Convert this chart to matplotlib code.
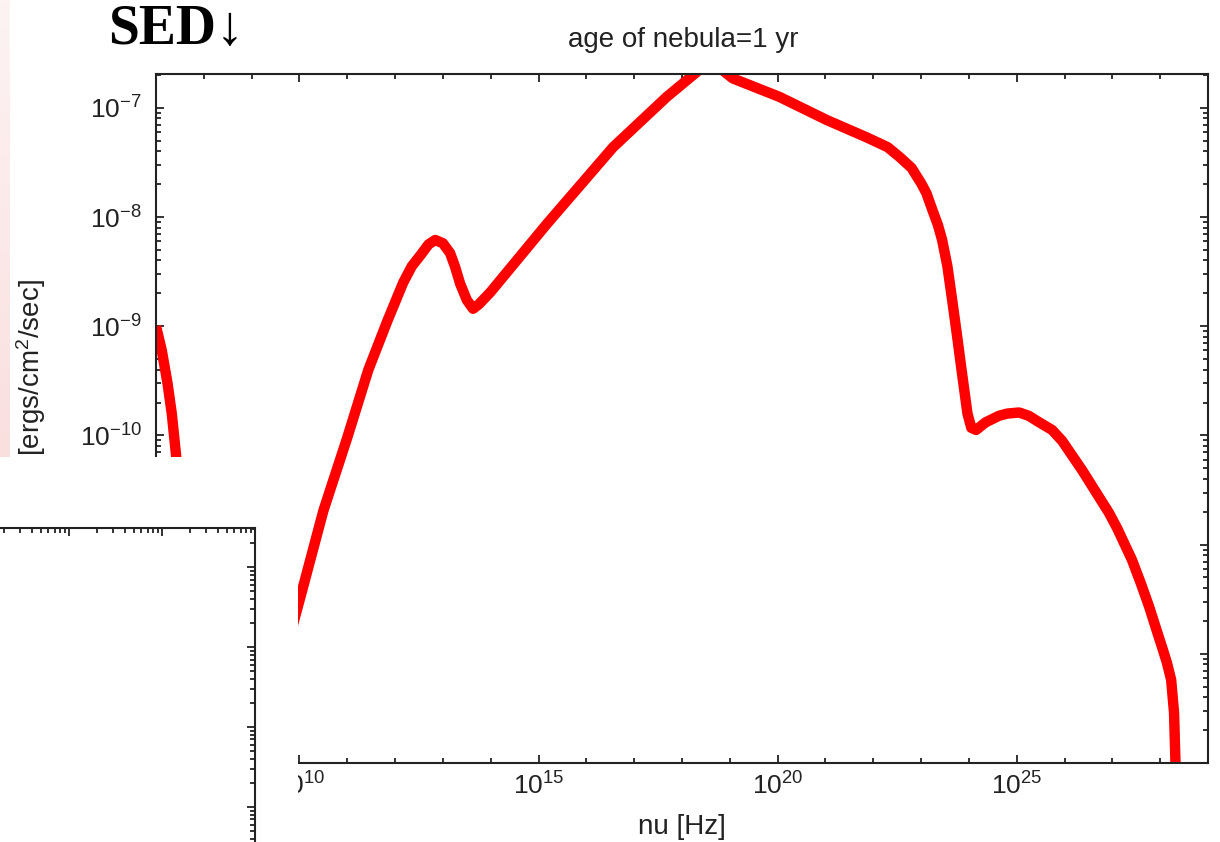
import numpy as np
import matplotlib
matplotlib.use('Agg')
import matplotlib.pyplot as plt
from matplotlib.ticker import (FixedLocator, LogLocator, NullFormatter, LogFormatterMathtext,
                               FuncFormatter)
from matplotlib.patches import Rectangle
from matplotlib.colors import LinearSegmentedColormap

# ---- data (log10 values) ----
log_nu = [7.00, 7.12, 7.24, 7.33, 7.41, 7.55, 7.75, 8.00, 8.30, 8.70,
          9.00, 9.50, 10.02, 10.50, 11.00, 11.44, 11.84, 12.17, 12.35, 12.53,
          12.70, 12.84, 13.00, 13.15, 13.25, 13.36, 13.50, 13.63, 13.75, 13.99,
          15.18, 16.56, 17.68, 18.23, 18.50, 18.75, 19.06, 20.04, 21.02, 21.86,
          22.30, 22.55, 22.80, 23.00, 23.11, 23.24, 23.35, 23.44, 23.55, 23.65,
          23.75, 23.84, 23.97, 24.05, 24.15, 24.35, 24.63, 24.80, 25.05, 25.25,
          25.47, 25.74, 25.95, 26.37, 26.93, 27.10, 27.41, 27.60, 27.77, 27.90,
          28.04, 28.14, 28.23, 28.29, 28.32, 28.33]
log_sed = [-9.00, -9.22, -9.52, -9.80, -10.14, -10.75, -11.60, -12.60, -13.30, -13.60,
           -13.20, -12.32, -11.48, -10.69, -10.02, -9.40, -8.95, -8.60, -8.45, -8.35,
           -8.25, -8.21, -8.24, -8.33, -8.45, -8.61, -8.76, -8.84, -8.80, -8.69,
           -8.06, -7.36, -6.90, -6.70, -6.60, -6.62, -6.73, -6.90, -7.11, -7.27,
           -7.36, -7.45, -7.55, -7.69, -7.78, -7.94, -8.07, -8.21, -8.45, -8.76,
           -9.08, -9.38, -9.80, -9.93, -9.95, -9.88, -9.82, -9.80, -9.79, -9.82,
           -9.88, -9.95, -10.05, -10.32, -10.71, -10.85, -11.14, -11.36, -11.57, -11.75,
           -11.94, -12.08, -12.24, -12.54, -13.00, -14.00]
x_major_exponents = [10, 15, 20, 25]
y_labelled_exponents = [-7, -8, -9, -10]
title_text = "age of nebula=1 yr"
xlabel_text = "nu [Hz]"
ylabel_text = "[ergs/cm$^2$/sec]"
header_text = "SED\u2193"

plt.rcParams.update({
    'font.family': ['Liberation Sans', 'DejaVu Sans'],
    'mathtext.fontset': 'custom',
    'mathtext.rm': 'Liberation Sans',
    'mathtext.it': 'Liberation Sans:italic',
    'mathtext.bf': 'Liberation Sans:bold',
})

W, H = 1220, 842
fig = plt.figure(figsize=(W / 100, H / 100), dpi=100)

def fx(px):
    return px / W

def fy(py):
    return 1 - py / H

INK = '#222222'

# ---- main axes ----
ax = fig.add_axes([fx(156), fy(763), fx(1208) - fx(156), fy(74) - fy(763)])
nu = 10.0 ** np.array(log_nu)
sed = 10.0 ** np.array(log_sed)
ax.plot(nu, sed, color='#ff0000', lw=7.5, solid_joinstyle='round', solid_capstyle='butt')
ax.set_xscale('log')
ax.set_yscale('log')
ax.set_xlim(1e7, 1e29)
ax.set_ylim(1e-13, 10 ** -6.69)
ax.xaxis.set_major_locator(FixedLocator([10.0 ** e for e in x_major_exponents]))
ax.xaxis.set_major_formatter(LogFormatterMathtext())
ax.xaxis.set_minor_locator(FixedLocator([10.0 ** e for e in range(7, 30) if e not in x_major_exponents]))
ax.xaxis.set_minor_formatter(NullFormatter())
ax.yaxis.set_major_locator(LogLocator(base=10, numticks=30))
ax.yaxis.set_minor_locator(LogLocator(base=10, subs=np.arange(2, 10), numticks=30))
ax.yaxis.set_minor_formatter(NullFormatter())

_ymath = LogFormatterMathtext()


def ylab(v, pos):
    e = int(round(np.log10(v)))
    return _ymath(v, pos) if e in y_labelled_exponents else ''


ax.yaxis.set_major_formatter(FuncFormatter(ylab))
ax.tick_params(which='both', direction='in', top=True, right=True, color=INK, width=1.3,
               labelcolor=INK)
ax.tick_params(which='major', length=6)
ax.tick_params(which='minor', length=3.5)
ax.tick_params(axis='x', which='major', labelsize=19, pad=7)
ax.tick_params(axis='y', which='major', labelsize=19, pad=10)
for s in ax.spines.values():
    s.set_linewidth(1.5)
    s.set_color(INK)
ax.set_xlabel(xlabel_text, fontsize=20, color=INK, labelpad=10)

fig.text(fx(683), fy(40), title_text, ha='center', va='center', fontsize=20, color=INK)
fig.text(fx(31), fy(456), ylabel_text, rotation=90, ha='center', va='bottom',
         fontsize=20, color=INK)

# ---- overlaid white patch with a partial second frame ----
fig.add_artist(Rectangle((0, 0), fx(298), fy(457), transform=fig.transFigure,
                         facecolor='white', edgecolor='none', zorder=5))
ax2 = fig.add_axes([fx(-24), fy(887), fx(279), fy(528) - fy(887)], zorder=6)
ax2.set_xscale('log')
ax2.set_yscale('log')
ax2.set_xlim(1, 1e3)
ax2.set_ylim(1e-1, 10 ** 3.49)
ax2.xaxis.set_minor_locator(LogLocator(base=10, subs=np.arange(2, 10), numticks=30))
ax2.yaxis.set_minor_locator(LogLocator(base=10, subs=np.arange(2, 10), numticks=30))
for axis in (ax2.xaxis, ax2.yaxis):
    axis.set_major_formatter(NullFormatter())
    axis.set_minor_formatter(NullFormatter())
ax2.tick_params(which='both', direction='in', top=True, right=True, bottom=False, left=False,
                labeltop=False, labelright=False, labelbottom=False, labelleft=False,
                color=INK, width=1.3)
ax2.tick_params(which='major', length=5.5)
ax2.tick_params(which='minor', length=3.3)
for k, s in ax2.spines.items():
    s.set_linewidth(1.5)
    s.set_color(INK)
    if k in ('left', 'bottom'):
        s.set_visible(False)

# ---- pale pink strip on the left edge ----
pax = fig.add_axes([0, fy(457), fx(10), fy(0) - fy(457)], zorder=4)
cmap = LinearSegmentedColormap.from_list('pinkband', ['#fdf3f3', '#fadfdf'])
pax.imshow(np.linspace(0, 1, 100).reshape(-1, 1), cmap=cmap, aspect='auto')
pax.axis('off')

# ---- header ----
fig.text(fx(108), fy(44), header_text, ha='left', va='baseline', fontsize=40,
         fontweight='bold', family=['Liberation Serif', 'DejaVu Serif'], color='black')

fig.savefig('out.png', dpi=100)
